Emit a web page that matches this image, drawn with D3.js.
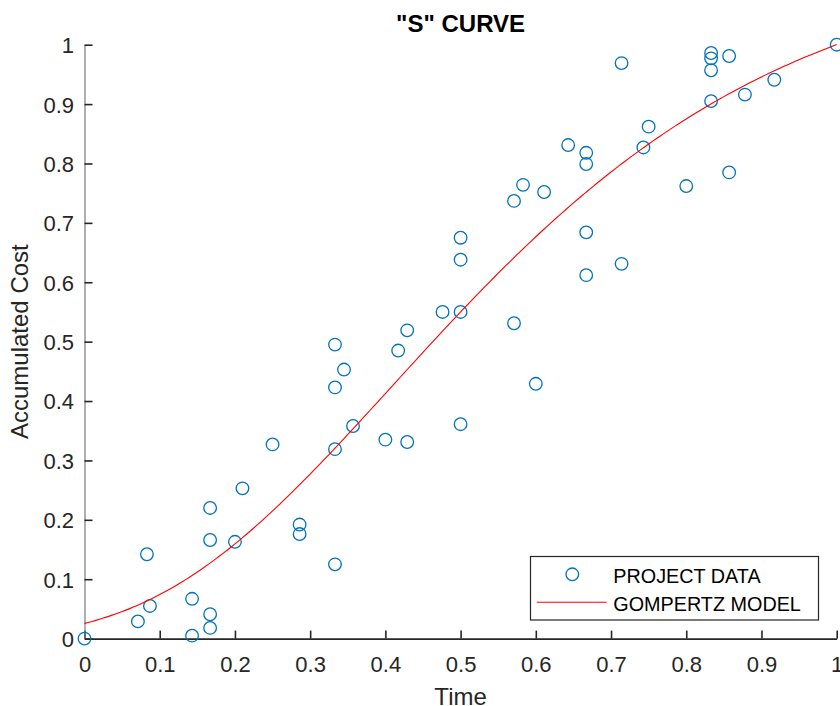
<!DOCTYPE html>
<html>
<head>
<meta charset="utf-8">
<script src="https://cdn.jsdelivr.net/npm/d3@7"></script>
<style>
  html, body { margin: 0; padding: 0; background: #fff; }
  svg { display: block; font-family: "Liberation Sans", Arial, Helvetica, sans-serif; }
</style>
</head>
<body>
<svg id="chart" width="840" height="706"></svg>
<script>
// Project observations: fraction of duration elapsed vs. fraction of cost spent
const timeValues = [
  0.000, 0.071, 0.087, 0.083, 0.143, 0.143, 0.167, 0.167, 0.167, 0.167,
  0.200, 0.210, 0.250, 0.286, 0.286, 0.333, 0.333, 0.333, 0.333, 0.345,
  0.357, 0.400, 0.417, 0.429, 0.429, 0.476, 0.500, 0.500, 0.500, 0.500,
  0.571, 0.571, 0.583, 0.611, 0.600, 0.643, 0.667, 0.667, 0.667, 0.667,
  0.714, 0.714, 0.743, 0.750, 0.800, 0.833, 0.833, 0.833, 0.833, 0.857,
  0.857, 0.878, 0.917, 1.000
];
const costValues = [
  0.000, 0.029, 0.055, 0.142, 0.067, 0.005, 0.041, 0.018, 0.166, 0.220,
  0.163, 0.253, 0.327, 0.192, 0.176, 0.125, 0.319, 0.423, 0.495, 0.453,
  0.358, 0.335, 0.485, 0.519, 0.331, 0.550, 0.550, 0.638, 0.675, 0.361,
  0.531, 0.737, 0.764, 0.752, 0.429, 0.831, 0.818, 0.799, 0.684, 0.612,
  0.969, 0.631, 0.827, 0.862, 0.762, 0.986, 0.977, 0.957, 0.905, 0.981,
  0.785, 0.916, 0.941, 1.000
];

// Gompertz model y = a * exp(-b * exp(-c * t))
const gompertzParams = [1.156, 3.81, 3.27];

const xTicks = [0, 0.1, 0.2, 0.3, 0.4, 0.5, 0.6, 0.7, 0.8, 0.9, 1];
const yTicks = [0, 0.1, 0.2, 0.3, 0.4, 0.5, 0.6, 0.7, 0.8, 0.9, 1];
const xTickLabels = ["0", "0.1", "0.2", "0.3", "0.4", "0.5", "0.6", "0.7", "0.8", "0.9", "1"];
const yTickLabels = ["0", "0.1", "0.2", "0.3", "0.4", "0.5", "0.6", "0.7", "0.8", "0.9", "1"];
const legendLabels = ["PROJECT DATA", "GOMPERTZ MODEL"];

const dataColor = "#0072BD";
const modelColor = "#FF0000";
const axisColor = "#262626";

const svg = d3.select("#chart");

const x = d3.scaleLinear().domain([0, 1]).range([84.5, 836.7]);
const y = d3.scaleLinear().domain([0, 1]).range([638.6, 44.7]);

// Axes (ticks point inward)
const xAxis = d3.axisBottom(x)
  .tickValues(xTicks)
  .tickFormat((d, i) => xTickLabels[i])
  .tickSizeInner(-8)
  .tickSizeOuter(0)
  .tickPadding(18);

const yAxis = d3.axisLeft(y)
  .tickValues(yTicks)
  .tickFormat((d, i) => yTickLabels[i])
  .tickSizeInner(-8)
  .tickSizeOuter(0)
  .tickPadding(10.5);

const gx = svg.append("g")
  .attr("transform", `translate(0,${y(0)})`)
  .call(xAxis);
const gy = svg.append("g")
  .attr("transform", `translate(${x(0)},0)`)
  .call(yAxis);

[gx, gy].forEach(g => {
  g.selectAll("text")
    .attr("fill", axisColor)
    .style("font-size", "22px")
    .style("font-family", '"Liberation Sans", Arial, Helvetica, sans-serif');
  g.selectAll(".tick line").attr("stroke", axisColor).attr("stroke-width", 1.6);
});
gx.select(".domain").attr("stroke", axisColor).attr("stroke-width", 1.8);
gy.select(".domain").attr("stroke", "#7a7a7a").attr("stroke-width", 1.2);
gy.selectAll("text").attr("dy", "0.36em");

// Data markers
const points = timeValues.map((t, i) => ({ t, c: costValues[i] }));
svg.append("g")
  .selectAll("circle")
  .data(points)
  .join("circle")
  .attr("cx", d => x(d.t))
  .attr("cy", d => y(d.c))
  .attr("r", 6.3)
  .attr("fill", "none")
  .attr("stroke", dataColor)
  .attr("stroke-width", 1.3);

// Model curve
const [ga, gb, gc] = gompertzParams;
const gompertz = t => ga * Math.exp(-gb * Math.exp(-gc * t));
const curveT = d3.range(0, 1.0001, 0.005);
const line = d3.line().x(t => x(t)).y(t => y(gompertz(t)));
svg.append("path")
  .datum(curveT)
  .attr("d", line)
  .attr("fill", "none")
  .attr("stroke", modelColor)
  .attr("stroke-width", 1.1);

// Title and axis labels
svg.append("text")
  .attr("x", (x(0) + x(1)) / 2)
  .attr("y", 32.3)
  .attr("text-anchor", "middle")
  .style("font-size", "24px")
  .style("font-weight", "bold")
  .attr("fill", "#000")
  .text('"S" CURVE');

svg.append("text")
  .attr("x", (x(0) + x(1)) / 2)
  .attr("y", 705)
  .attr("text-anchor", "middle")
  .style("font-size", "24px")
  .attr("fill", axisColor)
  .text("Time");

svg.append("text")
  .attr("transform", `translate(28.3,${(y(0) + y(1)) / 2}) rotate(-90)`)
  .attr("text-anchor", "middle")
  .style("font-size", "24px")
  .attr("fill", axisColor)
  .text("Accumulated Cost");

// Legend
const lg = svg.append("g");
lg.append("rect")
  .attr("x", 530.5).attr("y", 556.5)
  .attr("width", 288).attr("height", 63.5)
  .attr("fill", "#fff")
  .attr("stroke", axisColor)
  .attr("stroke-width", 1.2);
lg.append("circle")
  .attr("cx", 572.3).attr("cy", 574.3).attr("r", 6.3)
  .attr("fill", "none").attr("stroke", dataColor).attr("stroke-width", 1.3);
lg.append("line")
  .attr("x1", 536.7).attr("x2", 606.7)
  .attr("y1", 602.3).attr("y2", 602.3)
  .attr("stroke", modelColor).attr("stroke-width", 1.1);
lg.selectAll("text.leg")
  .data(legendLabels)
  .join("text")
  .attr("class", "leg")
  .attr("x", 613.3)
  .attr("y", (d, i) => 582.7 + i * 28)
  .style("font-size", "19.8px")
  .attr("fill", "#000")
  .text(d => d);
</script>
</body>
</html>
